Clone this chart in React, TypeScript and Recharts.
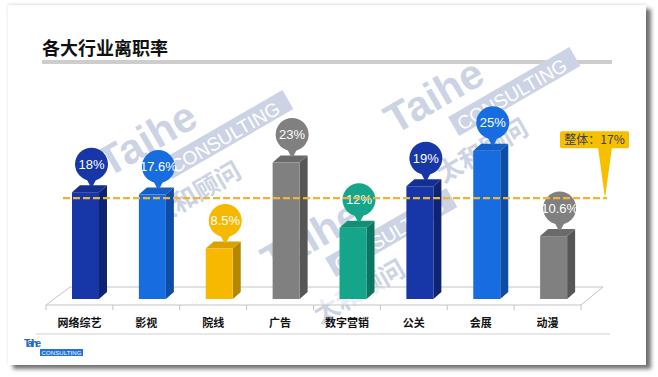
import React from "react";
import { BarChart, Bar, XAxis, YAxis, ReferenceLine } from "recharts";

const categories = ["网络综艺", "影视", "院线", "广告", "数字营销", "公关", "会展", "动漫"];
const rates = [18, 17.6, 8.5, 23, 12, 19, 25, 10.6];
const rateLabels = ["18%", "17.6%", "8.5%", "23%", "12%", "19%", "25%", "10.6%"];
const overallRate = 17;
const overallLabel = "整体：17%";

// front / top / side shades of each bar
const frontColors = ["#1737a8", "#176de0", "#f6b900", "#808080", "#14a58a", "#1737a8", "#176de0", "#808080"];
const topColors = ["#132f92", "#145fc6", "#d9a200", "#6a6a6a", "#118f77", "#132f92", "#145fc6", "#6a6a6a"];
const sideColors = ["#0e2372", "#0e4ca6", "#b58700", "#565656", "#0c7561", "#0e2372", "#0e4ca6", "#565656"];

const data = categories.map((name, i) => ({ name, rate: rates[i], label: rateLabels[i] }));

const W = 658;
const H = 377;
const PLOT_LEFT = 46;
const PLOT_RIGHT = 581;
const PLOT_TOP = 121;
const PLOT_BOTTOM = 299;
const X_AXIS_H = 30;
const DEPTH_X = 8;
const DEPTH_Y = 7;
const BAR_SHIFT = 6;

const cjk = '"Noto Sans CJK SC", "Noto Sans", sans-serif';
const latin = '"Liberation Sans", Arial, sans-serif';

function Bar3D(props: any) {
  const { x, y, width, height, index } = props;
  const fx = x + BAR_SHIFT;
  const w = width;
  const cx = fx + w / 2 + 6;
  const cy = y - 28;
  const r = 16.5;
  return (
    <g>
      <polygon
        points={`${fx + w},${y} ${fx + w + DEPTH_X},${y - DEPTH_Y} ${fx + w + DEPTH_X},${y + height - DEPTH_Y} ${fx + w},${y + height}`}
        fill={sideColors[index]}
      />
      <polygon
        points={`${fx},${y} ${fx + DEPTH_X},${y - DEPTH_Y} ${fx + w + DEPTH_X},${y - DEPTH_Y} ${fx + w},${y}`}
        fill={topColors[index]}
      />
      <rect x={fx} y={y} width={w} height={height} fill={frontColors[index]} />
      <polygon
        points={`${cx - 6},${cy + r - 4} ${cx + 6},${cy + r - 4} ${cx + 1.2},${y - DEPTH_Y + 1} ${cx - 1.2},${y - DEPTH_Y + 1}`}
        fill={frontColors[index]}
      />
      <circle cx={cx} cy={cy} r={r} fill={frontColors[index]} />
      <text
        x={cx}
        y={cy}
        dy="0.36em"
        textAnchor="middle"
        fontSize={13}
        fontFamily={latin}
        fill="#fff"
      >
        {rateLabels[index]}
      </text>
    </g>
  );
}

function OverallLine(props: any) {
  const { x1, x2, y1 } = props;
  const tipX = x2 + 24;
  const boxL = tipX - 45;
  const boxR = tipX + 24;
  const boxB = y1 - 50;
  const boxT = boxB - 17;
  return (
    <g>
      <line
        x1={x1 + 17}
        x2={x2 + 26}
        y1={y1}
        y2={y1}
        stroke="#f0b430"
        strokeWidth={2.4}
        strokeDasharray="7 3"
      />
      <polygon points={`${tipX - 7},${boxB - 1} ${tipX + 7},${boxB - 1} ${tipX},${y1}`} fill="#f6bf00" />
      <rect x={boxL} y={boxT} width={boxR - boxL} height={boxB - boxT} rx={2} fill="#f6bf00" />
      <text
        x={(boxL + boxR) / 2}
        y={(boxT + boxB) / 2}
        dy="0.36em"
        textAnchor="middle"
        fontSize={12}
        fontFamily={cjk}
        fill="#34415c"
      >
        {overallLabel}
      </text>
    </g>
  );
}

function CategoryTick(props: any) {
  const { x, payload } = props;
  return (
    <text
      x={x}
      y={PLOT_BOTTOM + 28}
      textAnchor="middle"
      fontSize={11}
      fontWeight="bold"
      fontFamily={cjk}
      fill="#111"
    >
      {payload.value}
    </text>
  );
}

function Watermark({ x, y }: { x: number; y: number }) {
  const c = "#ccd3e4";
  return (
    <g transform={`translate(${x} ${y}) rotate(-30)`}>
      <text x={0} y={0} fontSize={42} fontWeight="bold" fontFamily={latin} fill={c}>
        Taihe
      </text>
      <rect x={55} y={11} width={140} height={22} fill={c} />
      <text x={60} y={30} fontSize={19} fontFamily={latin} fill="#fff">
        CONSULTING
      </text>
      <text x={18} y={66} fontSize={25} fontWeight="bold" fontFamily={cjk} fill={c}>
        太和顾问
      </text>
    </g>
  );
}

function Backdrop() {
  const band = (PLOT_RIGHT - PLOT_LEFT) / categories.length;
  const frontY = PLOT_BOTTOM + 6;
  const backY = PLOT_BOTTOM - 12;
  return (
    <svg width={W} height={H} style={{ position: "absolute", left: 0, top: 0 }}>
      <text x={42} y={55} fontSize={18} fontWeight="bold" fontFamily={cjk} fill="#111">
        各大行业离职率
      </text>
      <rect x={42} y={60} width={570} height={4} fill="#cdcdcd" />
      <Watermark x={108} y={178} />
      <Watermark x={395} y={135} />
      <Watermark x={272} y={276} />
      <polygon
        points={`${PLOT_LEFT},${frontY} ${PLOT_RIGHT},${frontY} ${PLOT_RIGHT + 22},${backY} ${PLOT_LEFT + 24},${backY}`}
        fill="#fff"
        fillOpacity={0.6}
        stroke="#c4c4c4"
        strokeWidth={1}
      />
      {categories.concat([""]).map((_, i) => (
        <line
          key={i}
          x1={PLOT_LEFT + band * i}
          x2={PLOT_LEFT + band * i}
          y1={frontY}
          y2={frontY + 5}
          stroke="#c4c4c4"
        />
      ))}
      <line x1={36} x2={610} y1={334} y2={334} stroke="#cfcfcf" strokeWidth={1} />
      <text x={24} y={347} fontSize={10} fontWeight="bold" fontFamily={latin} fill="#2266c8" textLength={17}>
        Taihe
      </text>
      <rect x={40} y={349} width={43} height={7} fill="#2272d8" />
      <text x={41.5} y={354.8} fontSize={6} fontFamily={latin} fill="#fff" textLength={40}>
        CONSULTING
      </text>
    </svg>
  );
}

export default function App() {
  return (
    <div style={{ position: "absolute", left: 0, top: 0, width: W, height: H, background: "#fff", overflow: "hidden" }}>
      <div
        style={{
          position: "absolute",
          left: 8,
          top: 5,
          width: 638,
          height: 360,
          background: "#fff",
          boxShadow: "5px 4px 4px rgba(0,0,0,0.55), 0 -1px 3px rgba(0,0,0,0.12)",
        }}
      />
      <Backdrop />
      <div style={{ position: "absolute", left: 0, top: 0 }}>
        <BarChart
          width={W}
          height={H}
          data={data}
          margin={{ top: PLOT_TOP, right: W - PLOT_RIGHT, bottom: H - PLOT_BOTTOM - X_AXIS_H, left: PLOT_LEFT }}
        >
          <YAxis hide domain={[0, 30]} />
          <XAxis dataKey="name" height={X_AXIS_H} axisLine={false} tickLine={false} tick={<CategoryTick />} interval={0} />
          <Bar dataKey="rate" barSize={27} isAnimationActive={false} shape={(p: any) => <Bar3D {...p} />} />
          <ReferenceLine y={overallRate} shape={(p: any) => <OverallLine {...p} />} />
        </BarChart>
      </div>
    </div>
  );
}
